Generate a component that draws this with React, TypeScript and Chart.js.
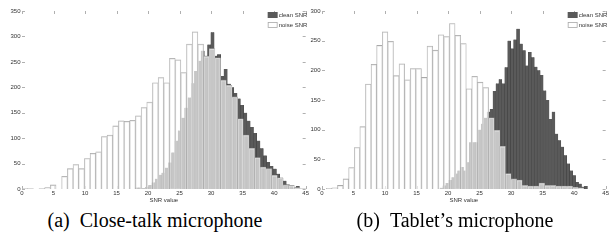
import React, { useEffect, useRef } from "react";
import { Chart, registerables } from "chart.js";

Chart.register(...registerables);

// ---------- Panel (a): close-talk microphone ----------
const A_NOISE_START = 0;
const A_NOISE_WIDTH = 0.9;
const A_NOISE = [
  1, 1, 0, 1, 3, 8, 0, 25, 40, 48,
  40, 60, 70, 73, 103, 106, 124, 134, 133, 135,
  144, 160, 171, 209, 219, 209, 257, 254, 229, 285,
  309, 285, 261, 276, 258, 214, 204, 181, 138, 106,
  80, 62, 43, 40, 27, 22, 8, 7, 3, 1,
];
const A_CLEAN_START = 18.0;
const A_CLEAN_WIDTH = 0.52;
const A_CLEAN = [
  3, 3, 2, 4, 8, 13, 20, 28, 32, 42,
  52, 72, 95, 115, 140, 160, 180, 208, 232, 252,
  272, 262, 284, 308, 262, 265, 222, 236, 207, 200,
  189, 178, 165, 150, 134, 122, 110, 95, 80, 66,
  53, 45, 40, 30, 22, 16, 9, 6, 3, 6,
];
const A_YMAX = 350;

// ---------- Panel (b): tablet's microphone ----------
const B_NOISE_START = 0.68;
const B_NOISE_WIDTH = 0.888;
const B_NOISE = [
  1, 2, 6, 17, 36, 70, 105, 177, 210, 242,
  265, 249, 191, 211, 184, 203, 203, 188, 241, 234,
  260, 257, 279, 259, 245, 169, 190, 180, 171, 120,
  99, 72, 26, 17, 15, 6, 5, 5, 10, 6,
  6, 5, 5, 5, 3, 2, 0, 0, 0, 0,
];
const B_CLEAN_START = 18.7;
const B_CLEAN_WIDTH = 0.468;
const B_CLEAN = [
  2, 6, 10, 15, 20, 26, 31, 37, 31, 45,
  79, 79, 79, 100, 110, 120, 130, 135, 165, 178,
  185, 178, 205, 250, 237, 252, 270, 245, 234, 208,
  231, 222, 206, 200, 192, 166, 150, 118, 130, 93,
  82, 71, 57, 43, 31, 23, 12, 9, 4, 5,
];
const B_YMAX = 300;

// ---------- shared ----------
const X_MIN = 0;
const X_MAX = 45;
const X_STEP = 5;
const Y_STEP = 50;
const X_TITLE = "SNR value";
const CLEAN_LABEL = "clean SNR";
const NOISE_LABEL = "noise SNR";
const CAPTION_A = "(a)\u2002Close-talk microphone";
const CAPTION_B = "(b)\u2002Tablet\u2019s microphone";

const DARK = "#5a5a5a";
const DARK_EDGE = "#3c3c3c";
const NOISE_FILL = "rgba(255,255,255,0.66)";
const NOISE_EDGE = "#a9a9a9";
const TICK_COLOR = "#b0b0b0";
const TEXT_COLOR = "#333333";
const SMALL_FONT = { family: "'Liberation Sans', Arial, sans-serif", size: 6 };

const toBins = (vals: number[], start: number, width: number) =>
  vals.map((v, i) => ({ x: start + width * (i + 0.5), y: v }));

const innerTicks = {
  id: "innerTicks",
  beforeDatasetsDraw(chart: any) {
    const { ctx, chartArea: a, scales } = chart;
    const x = scales.x;
    const y = scales.y;
    ctx.save();
    ctx.strokeStyle = TICK_COLOR;
    ctx.lineWidth = 1;
    ctx.beginPath();
    for (const t of y.ticks) {
      const py = Math.round(y.getPixelForValue(t.value)) + 0.5;
      ctx.moveTo(a.left, py);
      ctx.lineTo(a.left + 3, py);
      ctx.moveTo(a.right, py);
      ctx.lineTo(a.right - 3, py);
    }
    for (const t of x.ticks) {
      const px = Math.round(x.getPixelForValue(t.value)) + 0.5;
      ctx.moveTo(px, a.top);
      ctx.lineTo(px, a.top + 3);
      ctx.moveTo(px, a.bottom);
      ctx.lineTo(px, a.bottom - 3);
    }
    ctx.stroke();
    ctx.restore();
  },
};

const innerLegend = {
  id: "innerLegend",
  afterDatasetsDraw(chart: any) {
    const { ctx, chartArea: a } = chart;
    const ds = chart.data.datasets;
    ctx.save();
    ctx.font = `${SMALL_FONT.size}px ${SMALL_FONT.family}`;
    ctx.textBaseline = "middle";
    ctx.textAlign = "left";
    ds.forEach((d: any, i: number) => {
      const bx = a.right - 38;
      const by = a.top + 1 + i * 10;
      if (i === 0) {
        ctx.fillStyle = DARK;
        ctx.fillRect(bx, by, 10, 6);
      } else {
        ctx.fillStyle = "#ffffff";
        ctx.fillRect(bx, by, 10, 6);
        ctx.strokeStyle = NOISE_EDGE;
        ctx.lineWidth = 0.8;
        ctx.strokeRect(bx + 0.5, by + 0.5, 9, 5);
      }
      ctx.fillStyle = TEXT_COLOR;
      ctx.fillText(d.label, bx + 11, by + 3.5);
    });
    ctx.restore();
  },
};

type PanelProps = {
  left: number;
  noise: number[];
  noiseStart: number;
  noiseWidth: number;
  clean: number[];
  cleanStart: number;
  cleanWidth: number;
  yMax: number;
};

function Panel(p: PanelProps) {
  const ref = useRef<HTMLCanvasElement>(null);
  useEffect(() => {
    if (!ref.current) return;
    const chart = new Chart(ref.current, {
      type: "bar",
      data: {
        datasets: [
          {
            label: CLEAN_LABEL,
            data: toBins(p.clean, p.cleanStart, p.cleanWidth) as any,
            xAxisID: "x",
            yAxisID: "y",
            backgroundColor: DARK,
            borderColor: DARK_EDGE,
            borderWidth: { left: 0.4, right: 0.4, top: 0, bottom: 0 } as any,
            borderSkipped: "start",
            categoryPercentage: 1,
            barPercentage: 1,
            grouped: false,
            order: 2,
          },
          {
            label: NOISE_LABEL,
            data: toBins(p.noise, p.noiseStart, p.noiseWidth) as any,
            xAxisID: "xn",
            yAxisID: "y",
            backgroundColor: NOISE_FILL,
            borderColor: NOISE_EDGE,
            borderWidth: { left: 0.6, right: 0.6, top: 0.8, bottom: 0 } as any,
            borderSkipped: "start",
            categoryPercentage: 1,
            barPercentage: 1,
            grouped: false,
            order: 1,
          },
        ],
      },
      options: {
        animation: false,
        responsive: false,
        devicePixelRatio: 1,
        events: [],
        layout: { padding: { left: 0, top: 11, right: 4, bottom: 0 } },
        plugins: { legend: { display: false }, tooltip: { enabled: false } },
        scales: {
          x: {
            type: "linear",
            position: "bottom",
            offset: false,
            min: X_MIN,
            max: X_MAX,
            ticks: {
              stepSize: X_STEP,
              font: SMALL_FONT,
              color: TEXT_COLOR,
              padding: 1,
              maxRotation: 0,
              autoSkip: false,
            },
            grid: { display: false, drawTicks: false, offset: false },
            border: { display: false },
            title: {
              display: true,
              text: X_TITLE,
              font: SMALL_FONT,
              color: TEXT_COLOR,
              padding: { top: 0, bottom: 1 },
            },
            afterFit: (s: any) => {
              s.height = 16;
            },
          },
          xn: {
            type: "linear",
            position: "bottom",
            axis: "x",
            offset: false,
            min: X_MIN,
            max: X_MAX,
            display: false,
            grid: { offset: false },
          },
          y: {
            type: "linear",
            min: 0,
            max: p.yMax,
            ticks: {
              stepSize: Y_STEP,
              font: SMALL_FONT,
              color: TEXT_COLOR,
              padding: 1.5,
            },
            grid: { display: false, drawTicks: false },
            border: { display: false },
            afterFit: (s: any) => {
              s.width = 22;
            },
          },
        } as any,
      },
      plugins: [innerTicks, innerLegend],
    });
    return () => chart.destroy();
  }, []);
  return (
    <canvas
      ref={ref}
      width={310}
      height={205}
      style={{ position: "absolute", left: p.left, top: 0, width: 310, height: 205 }}
    />
  );
}

const captionStyle: React.CSSProperties = {
  position: "absolute",
  top: 210,
  width: 310,
  textAlign: "center",
  fontFamily: "'Liberation Serif', 'Times New Roman', serif",
  fontSize: 20,
  lineHeight: "20px",
  color: "#000",
  whiteSpace: "nowrap",
};

export default function App() {
  return (
    <div style={{ position: "absolute", left: 0, top: 0, width: 610, height: 246, background: "#fff", overflow: "hidden" }}>
      <Panel
        left={0}
        noise={A_NOISE}
        noiseStart={A_NOISE_START}
        noiseWidth={A_NOISE_WIDTH}
        clean={A_CLEAN}
        cleanStart={A_CLEAN_START}
        cleanWidth={A_CLEAN_WIDTH}
        yMax={A_YMAX}
      />
      <Panel
        left={300}
        noise={B_NOISE}
        noiseStart={B_NOISE_START}
        noiseWidth={B_NOISE_WIDTH}
        clean={B_CLEAN}
        cleanStart={B_CLEAN_START}
        cleanWidth={B_CLEAN_WIDTH}
        yMax={B_YMAX}
      />
      <div style={{ ...captionStyle, left: 0 }}>{CAPTION_A}</div>
      <div style={{ ...captionStyle, left: 300 }}>{CAPTION_B}</div>
    </div>
  );
}
